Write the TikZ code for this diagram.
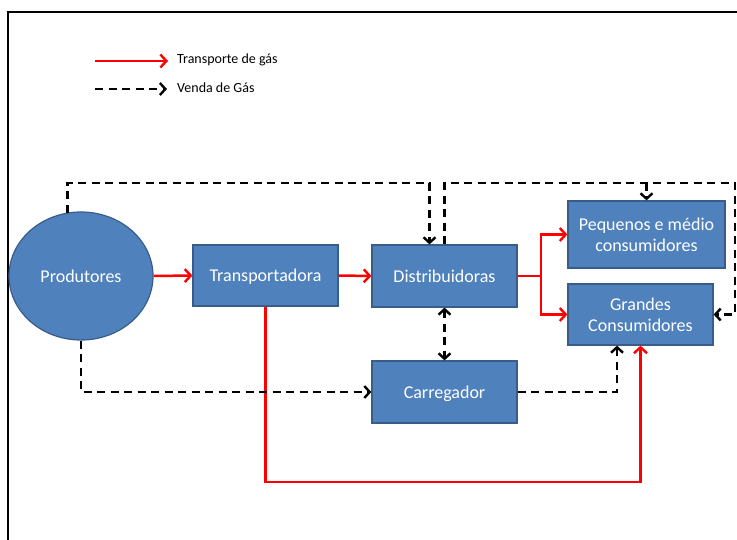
\documentclass[tikz,border=0pt]{standalone}
\usepackage{fontspec}
\setmainfont{Carlito}
\usetikzlibrary{arrows.meta,shapes.geometric}
\definecolor{boxfill}{HTML}{4F81BD}
\definecolor{boxline}{HTML}{385D8A}
\definecolor{gasred}{HTML}{FF0000}
\begin{document}
\begin{tikzpicture}[x=1pt,y=-1pt,
  box/.style={draw=boxline,line width=1.2pt,fill=boxfill,text=white,
    font=\fontsize{18}{21}\selectfont,align=center,inner sep=0pt},
  oneline/.style={box,text depth=0pt},
  producer/.style={oneline,ellipse,minimum width=144pt,minimum height=128pt},
  flow/.style={draw=gasred,line width=2.5pt,-{Straight Barb[length=6pt,width=13pt,line width=2.4pt]}},
  sale/.style={draw=black,line width=2.6pt,dash pattern=on 8pt off 5.5pt,
    -{Straight Barb[length=5.5pt,width=12pt,line width=2.4pt]}},
  legendtext/.style={anchor=west,font=\fontsize{14}{17}\selectfont,inner sep=0pt}]
\useasboundingbox (0,0) rectangle (737,540);
\fill[white] (0,0) rectangle (737,540);
% outer frame
\draw[line width=2pt] (8,542) -- (8,12) -- (739,12);

% legend
\coordinate (l1a) at (95,61);
\coordinate (l1b) at (168,61);
\coordinate (l2a) at (95,89);
\coordinate (l2b) at (167,89);
\draw[flow] (l1a) -- (l1b);
\draw[sale] (l2a) -- (l2b);
\node[legendtext] (lt1) at (177,60) {Transporte de gás};
\node[legendtext] (lt2) at (177,88) {Venda de Gás};

% actors
\node[producer] (prod) at (81,276) {Produtores};
\node[oneline,minimum width=145pt,minimum height=61pt] (tr) at (265.5,275.5) {Transportadora};
\node[oneline,minimum width=145pt,minimum height=62pt] (dist) at (444.5,276) {Distribuidoras};
\node[box,minimum width=157pt,minimum height=67pt] (pm) at (646.5,234.5) {Pequenos e médio\\consumidores};
\node[box,minimum width=145pt,minimum height=61pt] (gc) at (640.5,314.5) {Grandes\\Consumidores};
\node[oneline,minimum width=145pt,minimum height=62pt] (car) at (444.5,392) {Carregador};

% helper points
\coordinate (top) at (0,183);
\coordinate (bot) at (0,482);
\coordinate (split) at (541,276);
\coordinate (rside) at (735,183);
\coordinate (dleft) at ([xshift=-15pt]dist.north);
\coordinate (gleft) at ([xshift=-23.5pt]gc.south);
\coordinate (cturn) at (gleft |- car.east);

% gas transport
\draw[flow] (prod.east) -- (tr.west);
\draw[flow] (tr.east) -- (dist.west);
\draw[draw=gasred,line width=2.5pt] (dist.east) -- (split);
\draw[flow] (split) |- (pm.west);
\draw[flow] (split) |- (gc.west);
\draw[flow] (tr.south) |- (gc.south |- bot) -- (gc.south);

% gas sales
\draw[sale] (prod.102) |- (dleft |- top) -- (dleft);
\draw[sale] (dist.north) |- (rside) |- (gc.east);
\draw[sale] (pm.north |- top) -- (pm.north);
\draw[sale] (prod.south) |- (car.west);
\draw[sale,{Straight Barb[length=5.5pt,width=12pt,line width=2.4pt]}-{Straight Barb[length=5.5pt,width=12pt,line width=2.4pt]}] (dist.south) -- (car.north);
\draw[sale] (car.east) -- (cturn) -- (gleft);
\end{tikzpicture}
\end{document}
